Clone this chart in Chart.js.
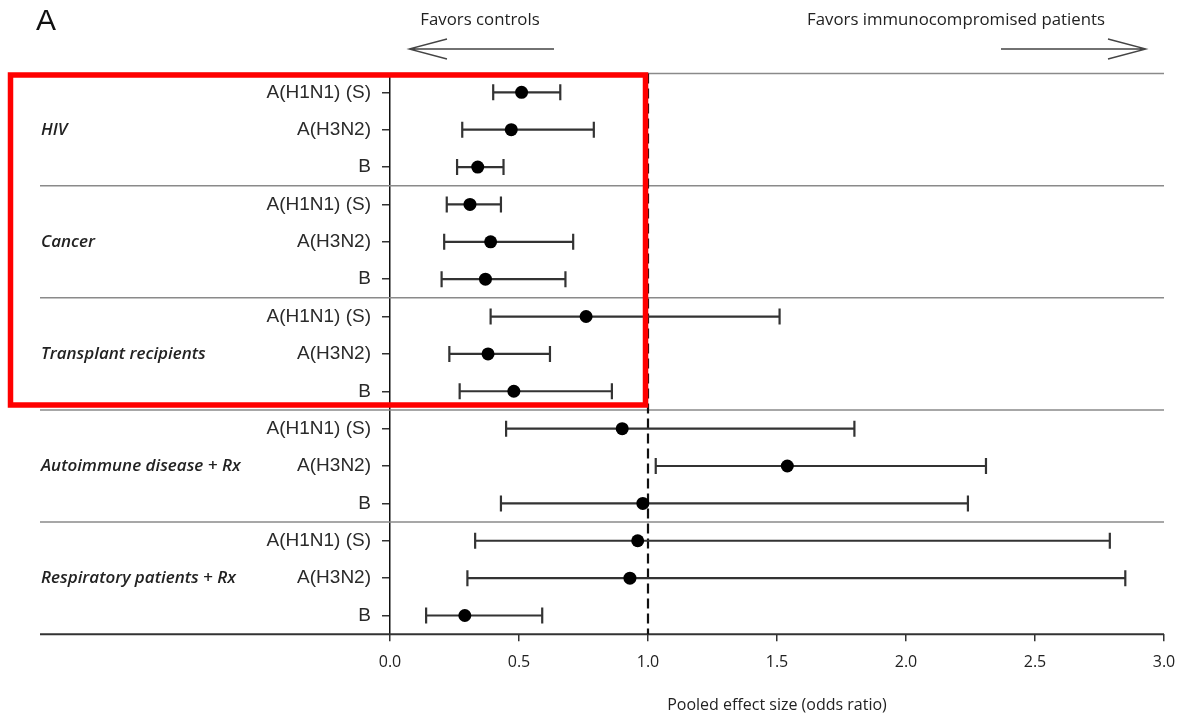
<!DOCTYPE html>
<html>
<head>
<meta charset="utf-8">
<script src="https://cdn.jsdelivr.net/npm/chart.js@4"></script>
<style>
html,body{margin:0;padding:0;background:#fff;}
#wrap{width:1181px;height:718px;position:relative;}
</style>
</head>
<body>
<div id="wrap"><canvas id="c" width="1181" height="718"></canvas></div>
<script>
// ---- data ----
const groups = ["HIV", "Cancer", "Transplant recipients", "Autoimmune disease + Rx", "Respiratory patients + Rx"];
const strains = ["A(H1N1) (S)", "A(H3N2)", "B"];
const rowLabels = [
  "A(H1N1) (S)", "A(H3N2)", "B",
  "A(H1N1) (S)", "A(H3N2)", "B",
  "A(H1N1) (S)", "A(H3N2)", "B",
  "A(H1N1) (S)", "A(H3N2)", "B",
  "A(H1N1) (S)", "A(H3N2)", "B"
];
const estimates = [0.51, 0.47, 0.34, 0.31, 0.39, 0.37, 0.76, 0.38, 0.48, 0.90, 1.54, 0.98, 0.96, 0.93, 0.29];
const lower     = [0.40, 0.28, 0.26, 0.22, 0.21, 0.20, 0.39, 0.23, 0.27, 0.45, 1.03, 0.43, 0.33, 0.30, 0.14];
const upper     = [0.66, 0.79, 0.44, 0.43, 0.71, 0.68, 1.51, 0.62, 0.86, 1.80, 2.31, 2.24, 2.79, 2.85, 0.59];
const xTicks = [0, 0.5, 1.0, 1.5, 2.0, 2.5, 3.0];
const xTitle = "Pooled effect size (odds ratio)";
const leftNote = "Favors controls";
const rightNote = "Favors immunocompromised patients";
const panelLetter = "A";

const LABEL_FONT = "'Open Sans', 'DejaVu Sans', sans-serif";

const decor = {
  id: 'decor',
  beforeDatasetsDraw(chart) {
    const {ctx, chartArea: ca, scales: {x, y}} = chart;
    ctx.save();
    // group separators
    ctx.strokeStyle = '#8a8a8a';
    ctx.lineWidth = 1.5;
    for (let g = 1; g < groups.length; g++) {
      const py = y.getPixelForValue(g * strains.length - 0.5);
      ctx.beginPath(); ctx.moveTo(40, py); ctx.lineTo(ca.right, py); ctx.stroke();
    }
    // top line
    const topY = y.getPixelForValue(-0.5);
    ctx.beginPath(); ctx.moveTo(40, topY); ctx.lineTo(ca.right, topY); ctx.stroke();
    // bottom line
    ctx.strokeStyle = '#333';
    ctx.lineWidth = 2;
    const botY = y.getPixelForValue(rowLabels.length - 0.5);
    ctx.beginPath(); ctx.moveTo(40, botY); ctx.lineTo(ca.right, botY); ctx.stroke();
    // dashed reference line at 1
    ctx.strokeStyle = '#111';
    ctx.lineWidth = 2.2;
    ctx.setLineDash([10, 5]);
    const rx = x.getPixelForValue(1);
    ctx.beginPath(); ctx.moveTo(rx, topY); ctx.lineTo(rx, botY); ctx.stroke();
    ctx.setLineDash([]);
    // error bars
    ctx.strokeStyle = '#333';
    ctx.lineWidth = 2.2;
    for (let i = 0; i < estimates.length; i++) {
      const py = y.getPixelForValue(i);
      const x1 = x.getPixelForValue(lower[i]);
      const x2 = x.getPixelForValue(upper[i]);
      ctx.beginPath();
      ctx.moveTo(x1, py); ctx.lineTo(x2, py);
      ctx.moveTo(x1, py - 8); ctx.lineTo(x1, py + 8);
      ctx.moveTo(x2, py - 8); ctx.lineTo(x2, py + 8);
      ctx.stroke();
    }
    // group labels
    ctx.fillStyle = '#222';
    ctx.font = "italic 600 17px " + LABEL_FONT;
    ctx.textAlign = 'left';
    ctx.textBaseline = 'middle';
    groups.forEach((g, gi) => {
      const py = y.getPixelForValue(gi * strains.length + 1);
      ctx.fillText(g, 41, py);
    });
    // top annotations
    ctx.fillStyle = '#222';
    ctx.font = "16.8px " + LABEL_FONT;
    ctx.textAlign = 'center';
    ctx.fillText(leftNote, 480, 20);
    ctx.fillText(rightNote, 956, 20);
    ctx.strokeStyle = '#444';
    ctx.lineWidth = 1.3;
    ctx.beginPath();
    ctx.moveTo(409, 49); ctx.lineTo(554, 49);
    ctx.moveTo(447, 39); ctx.lineTo(409, 49); ctx.lineTo(447, 59);
    ctx.moveTo(1001, 49); ctx.lineTo(1146, 49);
    ctx.moveTo(1108, 39); ctx.lineTo(1146, 49); ctx.lineTo(1108, 59);
    ctx.stroke();
    // panel letter
    ctx.fillStyle = '#111';
    ctx.font = "30px 'Liberation Sans', Arial, sans-serif";
    ctx.textAlign = 'left';
    ctx.fillText(panelLetter, 36, 22);
    ctx.restore();
  },
  afterDraw(chart) {
    const {ctx} = chart;
    ctx.save();
    ctx.strokeStyle = '#ff0000';
    ctx.lineWidth = 5.5;
    ctx.strokeRect(10.5, 75, 635, 330);
    ctx.restore();
  }
};

new Chart(document.getElementById('c'), {
  type: 'scatter',
  data: {
    datasets: [{
      data: estimates.map((v, i) => ({x: v, y: i})),
      backgroundColor: '#000',
      borderColor: '#000',
      pointRadius: 6.5,
      pointHoverRadius: 6.5,
      pointBorderWidth: 0
    }]
  },
  options: {
    responsive: false,
    animation: false,
    events: [],
    layout: {padding: {top: 73.6, bottom: 3.4, left: 0, right: 17}},
    plugins: {legend: {display: false}, tooltip: {enabled: false}},
    scales: {
      x: {
        type: 'linear',
        min: 0, max: 3,
        afterBuildTicks(s) { s.ticks = xTicks.map(v => ({value: v})); },
        afterFit(s) { s.paddingLeft = 0; s.paddingRight = 0; },
        ticks: {
          callback: v => Number(v).toFixed(1),
          color: '#222',
          font: {family: LABEL_FONT, size: 16},
          padding: 12,
          maxRotation: 0
        },
        grid: {drawOnChartArea: false, drawTicks: true, tickLength: 7, color: '#333', lineWidth: 1.5},
        border: {display: false},
        title: {
          display: true, text: xTitle, color: '#222',
          font: {family: LABEL_FONT, size: 16},
          padding: {top: 11, bottom: 0}
        }
      },
      y: {
        type: 'linear',
        reverse: true,
        min: -0.5, max: rowLabels.length - 0.5,
        afterBuildTicks(s) { s.ticks = rowLabels.map((_, i) => ({value: i})); },
        afterFit(s) { s.width = 390; },
        ticks: {
          callback: v => rowLabels[v],
          color: '#2a2a2a',
          font: {family: "'Liberation Sans', Arial, sans-serif", size: 19},
          padding: 11
        },
        grid: {drawOnChartArea: false, drawTicks: true, tickLength: 8, color: '#333', lineWidth: 1.5},
        border: {display: true, color: '#111', width: 1.5}
      }
    }
  },
  plugins: [decor]
});
</script>
</body>
</html>
